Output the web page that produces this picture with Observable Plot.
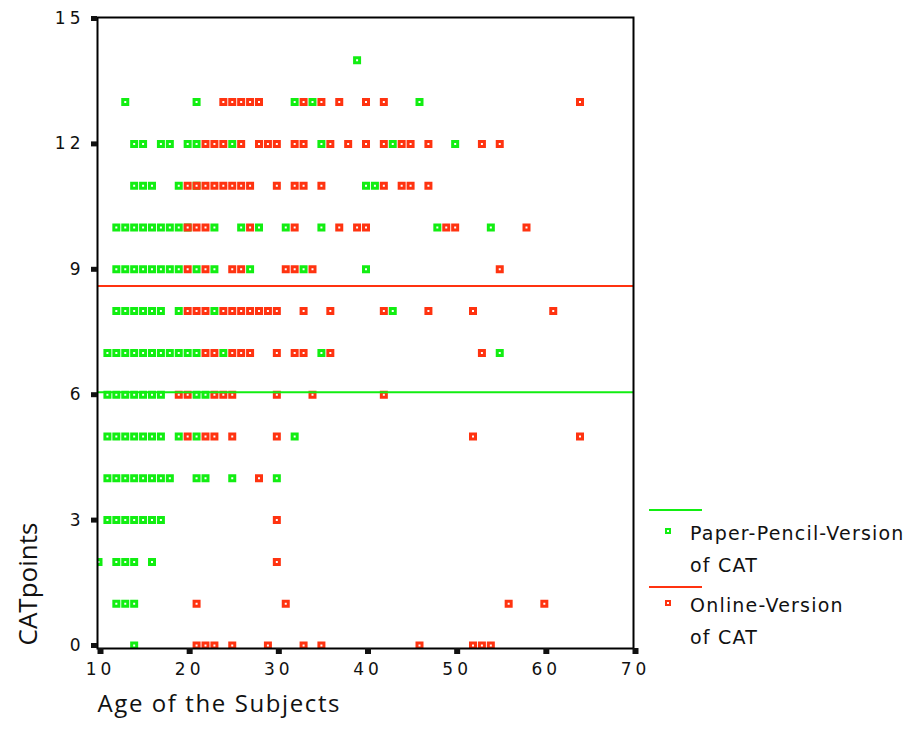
<!DOCTYPE html>
<html><head><meta charset="utf-8">
<script src="https://cdn.jsdelivr.net/npm/d3@7"></script>
<script src="https://cdn.jsdelivr.net/npm/@observablehq/plot@0.6"></script>
<style>
body{margin:0;background:#fff;}
#wrap{position:relative;width:910px;height:747px;background:#fff;}
#wrap g[aria-label="x-axis tick label"] text,
#wrap g[aria-label="y-axis tick label"] text{letter-spacing:4px;}
.lg-line{position:absolute;left:649px;width:53px;height:2px;}
.lg-mark{position:absolute;left:665px;width:2px;height:2px;border:2px solid;background:#fff;}
.lg-text{position:absolute;left:690px;font-family:"DejaVu Sans",sans-serif;font-size:19px;line-height:32px;color:#111;letter-spacing:1.2px;white-space:nowrap;}
</style></head><body><div id="wrap"></div>
<script>
// Age values at each CATpoints level
const paperRows = [
  [14, [39]],
  [13, [13, 21, 32, 34, 46]],
  [12, [14, 15, 17, 18, 20, 21, 25, 35, 43, 50]],
  [11, [14, 15, 16, 19, 21, 40, 41]],
  [10, [12, 13, 14, 15, 16, 17, 18, 19, 20, 23, 26, 28, 31, 35, 48, 54]],
  [9,  [12, 13, 14, 15, 16, 17, 18, 19, 21, 23, 27, 33, 40]],
  [8,  [12, 13, 14, 15, 16, 17, 19, 23, 43]],
  [7,  [11, 12, 13, 14, 15, 16, 17, 18, 19, 20, 21, 24, 35, 55]],
  [6,  [11, 12, 13, 14, 15, 16, 17, 21, 22]],
  [5,  [11, 12, 13, 14, 15, 16, 17, 19, 21, 32]],
  [4,  [11, 12, 13, 14, 15, 16, 17, 18, 21, 22, 25, 30]],
  [3,  [11, 12, 13, 14, 15, 16, 17]],
  [2,  [10, 12, 13, 14, 16]],
  [1,  [12, 13, 14]],
  [0,  [14]]
];
const onlineRows = [
  [13, [24, 25, 26, 27, 28, 33, 35, 37, 40, 42, 64]],
  [12, [22, 23, 24, 26, 28, 29, 30, 32, 33, 36, 38, 40, 42, 44, 45, 47, 53, 55]],
  [11, [20, 21, 22, 23, 24, 25, 26, 27, 30, 32, 33, 35, 42, 44, 45, 47]],
  [10, [20, 21, 22, 27, 32, 37, 39, 40, 49, 50, 58]],
  [9,  [20, 22, 25, 26, 31, 32, 34, 55]],
  [8,  [20, 21, 22, 24, 25, 26, 27, 28, 29, 30, 33, 36, 42, 47, 52, 61]],
  [7,  [22, 23, 25, 26, 27, 30, 32, 33, 36, 53]],
  [6,  [19, 20, 23, 24, 25, 30, 34, 42]],
  [5,  [20, 22, 23, 25, 30, 52, 64]],
  [4,  [28]],
  [3,  [30]],
  [2,  [30]],
  [1,  [21, 31, 56, 60]],
  [0,  [21, 22, 23, 25, 29, 33, 35, 46, 52, 53, 54]]
];
const paperMean = 6.06;
const onlineMean = 8.6;
const xTicks = [10, 20, 30, 40, 50, 60, 70];
const yTicks = [0, 3, 6, 9, 12, 15];
const seriesNames = ["Paper-Pencil-Version", "Online-Version"];
const seriesSub = ["of CAT", "of CAT"];
const green = "#12ee12";
const red = "#ff3310";

const toPoints = rows => rows.flatMap(([p, ages]) => ages.map(a => ({age: a, pts: p})));
const paper = toPoints(paperRows);
const online = toPoints(onlineRows);

const R = 5 / Math.sqrt(Math.PI);
const chart = Plot.plot({
  width: 910, height: 747,
  marginLeft: 97, marginRight: 277, marginTop: 17, marginBottom: 99,
  style: {fontFamily: "DejaVu Sans, sans-serif", fontSize: "17px", background: "#fff", color: "#111"},
  x: {domain: [10, 70], range: [98, 633]},
  y: {domain: [0, 15], range: [645, 18]},
  marks: [
    Plot.dot(paper, {x: "age", y: "pts", symbol: "square", r: R, stroke: green, strokeWidth: 3, fill: "white", clip: true}),
    Plot.dot(online, {x: "age", y: "pts", symbol: "square", r: R, stroke: red, strokeWidth: 3, fill: "white", clip: true}),
    Plot.ruleY([onlineMean], {stroke: red, strokeWidth: 2}),
    Plot.ruleY([paperMean], {stroke: green, strokeWidth: 2}),
    Plot.frame({stroke: "black", strokeWidth: 2}),
    Plot.axisY({ticks: yTicks, tickSize: 6, strokeWidth: 5, tickPadding: 7, label: null, fontSize: 17}),
    Plot.axisX({ticks: xTicks, tickSize: 6, strokeWidth: 6, tickPadding: 8, label: null, fontSize: 17, dx: 2}),
    Plot.text(["CATpoints"], {frameAnchor: "bottom-left", rotate: -90, textAnchor: "start", dx: -61, dy: -3, fontSize: 26, fontFamily: "Open Sans, sans-serif", fill: "#111"}),
    Plot.text(["Age of the Subjects"], {frameAnchor: "bottom-left", textAnchor: "start", dx: 0, dy: 63, fontSize: 24, fontFamily: "Open Sans, sans-serif", fill: "#111", letterSpacing: 1.6})
  ]
});
const wrap = document.getElementById("wrap");
wrap.appendChild(chart);

// legend
const legendDefs = [
  {color: green, lineTop: 509, markTop: 528, textTop: 517},
  {color: red, lineTop: 586, markTop: 600, textTop: 589}
];
legendDefs.forEach((d, i) => {
  const line = document.createElement("div");
  line.className = "lg-line"; line.style.top = d.lineTop + "px"; line.style.background = d.color;
  const mark = document.createElement("div");
  mark.className = "lg-mark"; mark.style.top = d.markTop + "px"; mark.style.borderColor = d.color;
  const txt = document.createElement("div");
  txt.className = "lg-text"; txt.style.top = d.textTop + "px";
  txt.innerHTML = seriesNames[i] + "<br>" + seriesSub[i];
  wrap.append(line, mark, txt);
});
// letter spacing on the x title
chart.querySelectorAll("text").forEach(t => { if (t.textContent === "Age of the Subjects") t.style.letterSpacing = "1.6px"; });
</script></body></html>
